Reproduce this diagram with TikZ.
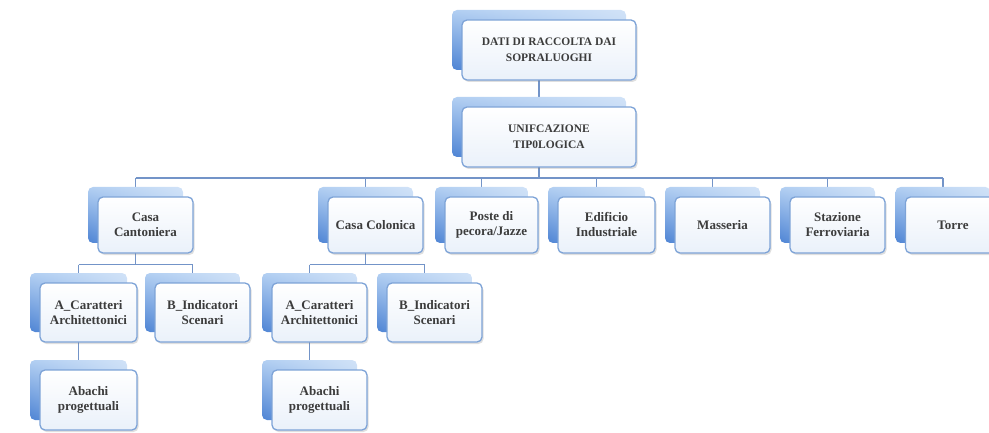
\documentclass[tikz,border=0pt]{standalone}
\usepackage{fontspec}
\setmainfont{Liberation Serif}
\usetikzlibrary{shadows,shadings,calc}
\definecolor{bord}{RGB}{125,163,215}
\definecolor{conncol}{RGB}{115,148,200}
\definecolor{bdark}{RGB}{78,132,212}
\definecolor{blight}{RGB}{178,207,242}
\definecolor{txt}{RGB}{60,60,60}
\definecolor{frontbot}{RGB}{234,241,250}
\tikzset{
  backbox/.style={rounded corners=5pt, draw=none, upper left=blight, upper right=blight!60!white, lower left=bdark, lower right=blight},
  frontbox/.style={rounded corners=5pt, draw=bord, line width=1.3pt, top color=white, bottom color=frontbot,
    drop shadow={opacity=0.25, shadow xshift=1.5pt, shadow yshift=-2pt},
    text=txt, align=center, inner sep=0pt, font=\fontsize{13}{15}\selectfont\bfseries},
  bigtext/.style={font=\fontsize{11.5}{16}\selectfont\bfseries},
  conn/.style={draw=conncol, line width=1.2pt},
}
\newcommand\sabox[7][]{%
  \node[backbox, minimum width=#5pt, minimum height=#6pt] (#2b) at (#3-10,#4-10) {};
  \node[frontbox, minimum width=#5pt, minimum height=#6pt, #1] (#2) at (#3,#4) {#7};
}
\begin{document}
\begin{tikzpicture}[x=1pt, y=-1pt]
\useasboundingbox (0,0) rectangle (989,433);
% connectors (drawn first)
\draw[conn] (539,80) coordinate (c1a) -- (539,97) coordinate (c1b);
\draw[conn] (539,167) coordinate (c2a) -- (539,178) coordinate (c2b);
\draw[conn] (135.5,178) coordinate (hA1) -- (943,178) coordinate (hA2);
\foreach \x in {135.5,365.5,481.5,596.5,712.5,827.5,943}{
  \draw[conn] (\x,178) -- (\x,187);
}
% Casa Cantoniera subtree
\draw[conn] (135.5,253) -- (135.5,264.5);
\draw[conn] (78.5,264.5) -- (192.5,264.5);
\draw[conn] (78.5,264.5) -- (78.5,274);
\draw[conn] (192.5,264.5) -- (192.5,274);
\draw[conn] (78.5,342) -- (78.5,360);
% Casa Colonica subtree
\draw[conn] (365.5,253) -- (365.5,264.5);
\draw[conn] (309.5,264.5) -- (424.5,264.5);
\draw[conn] (309.5,264.5) -- (309.5,274);
\draw[conn] (424.5,264.5) -- (424.5,274);
\draw[conn] (309.5,342) -- (309.5,360);
% boxes
\sabox[bigtext]{top}{549}{50}{174}{60}{DATI DI RACCOLTA DAI\\SOPRALUOGHI}
\sabox[bigtext]{unif}{549}{137}{174}{60}{UNIFCAZIONE\\TIP0LOGICA}
\sabox{cant}{145.5}{225}{95}{56}{Casa\\Cantoniera}
\sabox{colo}{375.5}{225}{95}{56}{Casa Colonica}
\sabox{post}{491.5}{225}{93}{56}{Poste di\\pecora/Jazze}
\sabox{edif}{606.5}{225}{97}{56}{Edificio\\Industriale}
\sabox{mass}{722.5}{225}{95}{56}{Masseria}
\sabox{staz}{837.5}{225}{95}{56}{Stazione\\Ferroviaria}
\sabox{torr}{953}{225}{95}{56}{Torre}
\sabox{cantA}{88.5}{312.5}{97}{59}{A\_Caratteri\\Architettonici}
\sabox{cantB}{202.5}{312.5}{95}{59}{B\_Indicatori\\Scenari}
\sabox{cantC}{88.5}{400}{97}{60}{Abachi\\progettuali}
\sabox{coloA}{319.5}{312.5}{95}{59}{A\_Caratteri\\Architettonici}
\sabox{coloB}{434.5}{312.5}{95}{59}{B\_Indicatori\\Scenari}
\sabox{coloC}{319.5}{400}{95}{60}{Abachi\\progettuali}
\end{tikzpicture}
\end{document}
